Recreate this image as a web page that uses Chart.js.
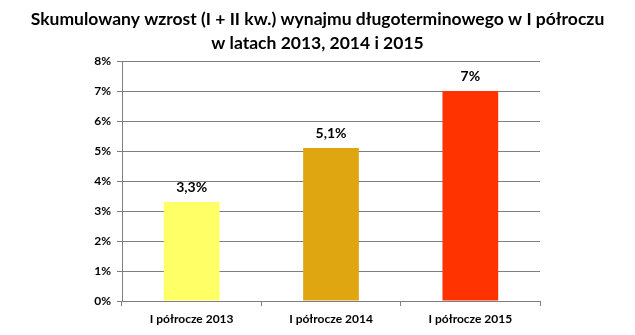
<!DOCTYPE html>
<html>
<head>
<meta charset="utf-8">
<script src="https://cdn.jsdelivr.net/npm/chart.js@4"></script>
<style>
  html, body { margin: 0; padding: 0; background: #fff; }
  #wrap { width: 635px; height: 335px; }
</style>
</head>
<body>
<div id="wrap"><canvas id="wykres" width="635" height="335"></canvas></div>
<script>
// dane z wykresu
const kategorie = ['I półrocze 2013', 'I półrocze 2014', 'I półrocze 2015'];
const wartosci = [3.3, 5.1, 7];
const etykiety = ['3,3%', '5,1%', '7%'];
const kolory = ['#FFFF66', '#E0A612', '#FF3300'];
const tytul = ['Skumulowany wzrost (I + II kw.) wynajmu długoterminowego w I półroczu', 'w latach 2013, 2014 i 2015'];

const czcionka = 'Lato, "Open Sans", sans-serif';

// tytuł wyśrodkowany na całej szerokości obrazka
const tytulPlugin = {
    id: 'tytul',
    afterDraw(chart) {
        const ctx = chart.ctx;
        ctx.save();
        ctx.font = 'bold 17.5px ' + czcionka;
        ctx.fillStyle = '#000';
        ctx.textAlign = 'center';
        ctx.textBaseline = 'middle';
        tytul.forEach(function(linia, i) {
            ctx.fillText(linia, chart.width / 2, 19 + i * 24);
        });
        ctx.restore();
    }
};

// etykiety nad słupkami
const etykietyPlugin = {
    id: 'etykiety',
    afterDatasetsDraw(chart) {
        const ctx = chart.ctx;
        const meta = chart.getDatasetMeta(0);
        ctx.save();
        ctx.font = 'bold 14px ' + czcionka;
        ctx.fillStyle = '#000';
        ctx.textAlign = 'center';
        ctx.textBaseline = 'middle';
        meta.data.forEach(function(bar, i) {
            ctx.fillText(etykiety[i], bar.x, bar.y - 15);
        });
        ctx.restore();
    }
};

new Chart(document.getElementById('wykres').getContext('2d'), {
    type: 'bar',
    data: {
        labels: kategorie,
        datasets: [{
            data: wartosci,
            backgroundColor: kolory,
            borderWidth: 0,
            barPercentage: 0.4,
            categoryPercentage: 1
        }]
    },
    options: {
        responsive: false,
        animation: false,
        layout: { padding: { left: 0, right: 95, top: 61, bottom: 0 } },
        plugins: {
            legend: { display: false },
            tooltip: { enabled: false },
            title: { display: false }
        },
        scales: {
            y: {
                min: 0,
                max: 8,
                ticks: {
                    stepSize: 1,
                    color: '#000',
                    font: { family: czcionka, size: 12, weight: 'bold' },
                    padding: 6,
                    callback: function(v) { return v + '%'; }
                },
                grid: {
                    color: '#7f7f7f',
                    borderDash: [3, 2],
                    tickLength: 5,
                    tickColor: '#7f7f7f',
                    tickBorderDash: [],
                    drawOnChartArea: true
                },
                border: { color: '#7f7f7f', width: 1 },
                afterFit: function(s) { s.width = 122; }
            },
            x: {
                ticks: {
                    color: '#000',
                    font: { family: czcionka, size: 12, weight: 'bold' },
                    padding: 6
                },
                grid: {
                    offset: true,
                    drawOnChartArea: false,
                    tickLength: 5,
                    tickColor: '#7f7f7f'
                },
                border: { color: '#7f7f7f', width: 1 },
                afterFit: function(s) { s.height = 34; }
            }
        }
    },
    plugins: [etykietyPlugin, tytulPlugin]
});
</script>
</body>
</html>
